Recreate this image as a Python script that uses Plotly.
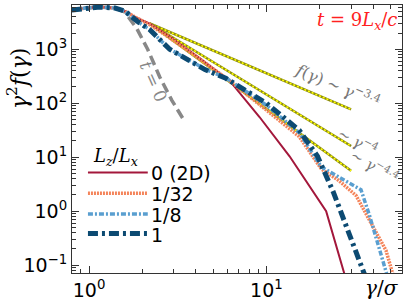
import plotly.graph_objects as go

# ---- data ----
g_2d = [0.80, 0.95, 1.15, 1.40, 1.59, 1.81, 2.20, 2.85, 4.2, 6.2, 9.14, 13.5, 21.7, 27.6]
y_2d = [5340, 5800, 6050, 5800, 5120, 3980, 2970, 1720, 686, 262, 55.6, 10.4, 1.0, 0.066]

g_32 = [0.80, 0.95, 1.15, 1.40, 1.59, 1.81, 2.20, 2.85, 4.2, 6.2, 10.0, 15.3, 20.4, 25.7, 32.0, 39.4, 47.2, 51.7]
y_32 = [5340, 5800, 6050, 5800, 5120, 3980, 2850, 1620, 660, 262, 74.6, 24.1, 6.05, 3.66, 1.95, 0.556, 0.187, 0.066]

g_8 = [0.80, 0.95, 1.15, 1.40, 1.59, 1.87, 2.20, 2.85, 4.5, 5.9, 10.0, 15.3, 20.4, 25.7, 34.1, 38.2, 42.6, 47.8]
y_8 = [5340, 5800, 6050, 5800, 5120, 3300, 2300, 1000, 430, 295, 92, 28.5, 6.6, 4.2, 2.5, 0.81, 0.23, 0.066]

g_1 = [0.80, 0.95, 1.15, 1.40, 1.59, 1.87, 2.20, 2.85, 4.5, 5.9, 10.0, 15.3, 19.4, 23.8, 30.5, 35.8]
y_1 = [5340, 5800, 6050, 5800, 5120, 3300, 2300, 1000, 420, 290, 100, 31.6, 10.4, 2.28, 0.28, 0.066]

g_t0 = [0.80, 0.95, 1.15, 1.40, 1.59, 1.86, 2.14, 2.50, 2.93, 3.37]
y_t0 = [5340, 5800, 6050, 5800, 4910, 2410, 1000, 310, 113, 53]

# power-law guide lines: start and end points
g_pl = [2.2, 30.0]
y_pl34 = [3000, 77]
y_pl4 = [3000, 16.1]
y_pl44 = [3000, 5.6]

x_tickvals = [1, 10]
x_ticktext = ["10<sup>0</sup>", "10<sup>1</sup>"]
y_tickvals = [0.1, 1, 10, 100, 1000]
y_ticktext = ["10<sup>−1</sup>", "10<sup>0</sup>", "10<sup>1</sup>", "10<sup>2</sup>", "10<sup>3</sup>"]

legend_labels = ["0 (2D)", "1/32", "1/8", "1"]
colors = ["#a3173b", "#f4845a", "#5a9fd0", "#0c4a72"]
dashes = ["solid", "2px,1px", "5px,2px,2px,2px", "10px,4px,3px,4px"]
widths = [2, 3.5, 3.5, 5]

fig = go.Figure()

for yv in (y_pl34, y_pl4, y_pl44):
    fig.add_trace(go.Scatter(x=g_pl, y=yv, mode="lines",
                             line=dict(color="#8c8c10", width=2.5), showlegend=False))
    fig.add_trace(go.Scatter(x=g_pl, y=yv, mode="lines",
                             line=dict(color="#ffff00", width=1.6, dash="2px,2px"), showlegend=False))

fig.add_trace(go.Scatter(x=g_t0, y=y_t0, mode="lines",
                         line=dict(color="#888888", width=3.5, dash="10px,5px"), showlegend=False))

series = [(g_2d, y_2d), (g_32, y_32), (g_8, y_8), (g_1, y_1)]
for i in [0, 1, 2, 3]:
    gx, gy = series[i]
    fig.add_trace(go.Scatter(x=gx, y=gy, mode="lines",
                             line=dict(color=colors[i], width=widths[i], dash=dashes[i]),
                             showlegend=False))

W, H = 407, 305
L, R, T, B = 72, 4, 4, 29
pw, ph = W - L - R, H - T - B

def px(x):
    return (x - L) / pw

def py(y):
    return (H - B - y) / ph

serif = "DejaVu Serif"
sans = "DejaVu Sans"

def note(x, y, text, size, color="black", angle=0, family=serif, xanchor="center"):
    return dict(xref="paper", yref="paper", x=px(x), y=py(y), xanchor=xanchor, yanchor="middle",
                showarrow=False, textangle=angle, text=text,
                font=dict(family=family, size=size, color=color))

shapes = []
annotations = []
leg_y = [174, 195, 216, 236]
for i in range(4):
    shapes.append(dict(type="line", xref="paper", yref="paper",
                       x0=px(88), x1=px(148), y0=py(leg_y[i]), y1=py(leg_y[i]),
                       line=dict(color=colors[i], width=widths[i], dash=dashes[i])))
    annotations.append(note(149, leg_y[i] + 1, legend_labels[i], 19, family=sans, xanchor="left"))

annotations += [
    note(116, 158, "<i>L<sub>z</sub></i>/<i>L<sub>x</sub></i>", 18),
    note(400, 20, "<i>t</i> = 9<i>L<sub>x</sub></i>/<i>c</i>", 18, color="#ff2020", xanchor="right"),
    note(338, 86, "<i>f</i>(<i>γ</i>) ~ <i>γ</i><sup>−3.4</sup>", 16, color="#777777", angle=23),
    note(359, 142, "~ <i>γ</i><sup>−4</sup>", 15, color="#777777", angle=28),
    note(376, 167, "~ <i>γ</i><sup>−4.4</sup>", 15, color="#777777", angle=30),
    note(154, 82, "<i>t</i> = 0", 17, color="#888888", angle=66),
    note(17, 79, "<i>γ</i><sup>2</sup><i>f</i>(<i>γ</i>)", 22, angle=-90),
    note(383, 291, "<i>γ</i>/<i>σ</i>", 20),
]

axis_common = dict(type="log", showgrid=False, zeroline=False,
                   ticks="inside", ticklen=7, tickwidth=1, tickcolor="#333333",
                   showline=True, linecolor="#333333", linewidth=1, mirror="ticks",
                   tickfont=dict(family=sans, size=19, color="black"),
                   minor=dict(ticks="inside", ticklen=4, tickcolor="#333333", dtick="D1", showgrid=False))

fig.update_layout(
    width=W, height=H,
    margin=dict(l=L, r=R, t=T, b=B),
    plot_bgcolor="white", paper_bgcolor="white",
    showlegend=False,
    xaxis=dict(range=[-0.096, 1.764], tickvals=x_tickvals, ticktext=x_ticktext, **axis_common),
    yaxis=dict(range=[-1.145, 3.82], tickvals=y_tickvals, ticktext=y_ticktext, **axis_common),
    shapes=shapes, annotations=annotations,
)

fig.write_html("out.html", config={"displayModeBar": False},
               post_script="document.body.style.margin='0px';")
